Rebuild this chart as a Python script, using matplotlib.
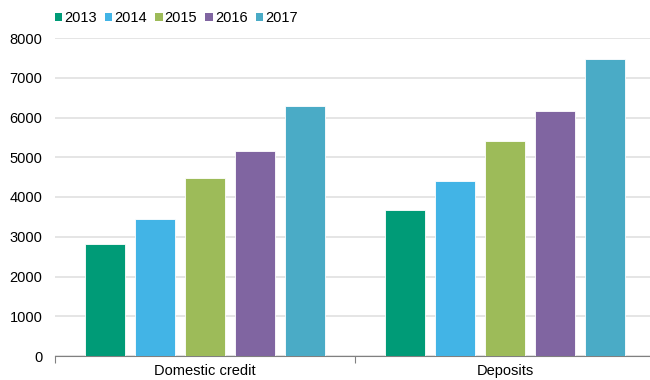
import matplotlib
matplotlib.use("Agg")
import matplotlib.pyplot as plt
from matplotlib.patches import Patch
import numpy as np

plt.rcParams['font.family'] = ['Liberation Sans', 'DejaVu Sans']

categories = ["Domestic credit", "Deposits"]
years = ["2013", "2014", "2015", "2016", "2017"]
domestic_credit = [2820, 3440, 4470, 5150, 6300]
deposits = [3665, 4400, 5420, 6170, 7470]
colors = ["#009B77", "#42B4E6", "#9DBB59", "#8065A1", "#4AABC6"]

values = np.array([domestic_credit, deposits])  # rows: category, cols: year

fig = plt.figure(figsize=(6.5, 3.8), dpi=100)
ax = fig.add_axes([55 / 650, 24 / 380, 600 / 650, 318 / 380])

x = np.arange(len(categories))
step = 1 / 6
width = 0.4 / 3
for i, yr in enumerate(years):
    ax.bar(x + (i - 2) * step, values[:, i], width, color=colors[i],
           edgecolor="white", linewidth=0.6, zorder=3)

ax.set_xlim(-0.5, 1.5)
ax.set_ylim(0, 8000)
ax.set_yticks(range(0, 8001, 1000))
ax.grid(axis="y", color="#E0E0E0", linewidth=1.2, zorder=0)

ax.set_xticks(x)
ax.set_xticklabels(categories)
ax.set_xticks([-0.5, 0.5, 1.5], minor=True)
ax.tick_params(axis="x", which="major", length=0, pad=6, labelsize=10.5)
ax.tick_params(axis="x", which="minor", length=5, color="#808080", width=0.8)
ax.tick_params(axis="y", length=0, pad=9, labelsize=10.5)

for side in ["top", "right", "left"]:
    ax.spines[side].set_visible(False)
ax.spines["bottom"].set_color("#808080")
ax.spines["bottom"].set_linewidth(0.8)

handles = [Patch(facecolor=c, label=y) for c, y in zip(colors, years)]
fig.legend(handles=handles, loc="center left", bbox_to_anchor=(55 / 650, 1 - 18 / 380),
           ncol=5, frameon=False, fontsize=10.5, handlelength=0.5, handleheight=0.5,
           handletextpad=0.15, columnspacing=0.55, borderpad=0, borderaxespad=0)

fig.savefig("out.png", dpi=100)
